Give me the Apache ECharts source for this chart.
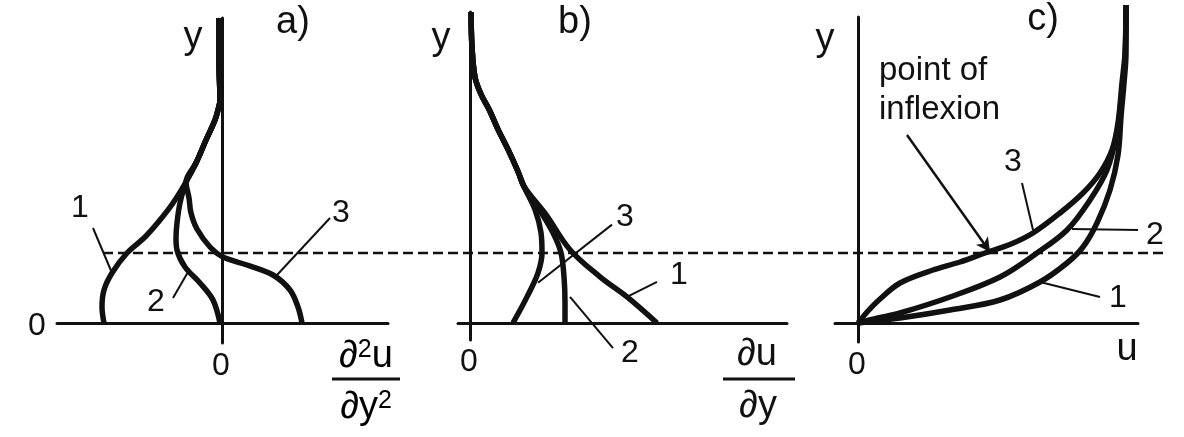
<!DOCTYPE html>
<html>
<head>
<meta charset="utf-8">
<script src="https://cdn.jsdelivr.net/npm/echarts@6/dist/echarts.min.js"></script>
<style>
  html, body { margin: 0; padding: 0; background: #fff; }
  #chart { width: 1184px; height: 437px; }
</style>
</head>
<body>
<div id="chart"></div>
<script>
// a) d2u/dy2 profiles  [x, y]
const a1 = [[-0.3,30.5],[-0.3,26],[-0.2,22.3],[-0.4,21.3],[-0.7,20.3],[-1.6,18.3],[-2.6,16.0],[-3.6,14.1],[-4.9,12.0],[-6.2,10.3],[-7.7,8.6],[-9.5,7.0],[-11.0,5.0],[-11.8,3.3],[-12.0,1.6],[-11.8,0]]
const a2 = [[-0.3,30.5],[-0.3,26],[-0.2,22.3],[-0.4,21.3],[-0.7,20.3],[-1.6,18.3],[-2.6,16.0],[-3.6,14.1],[-4.2,12.0],[-4.5,10.0],[-4.6,8.5],[-4.5,7.3],[-3.7,5.6],[-2.2,4.0],[-0.9,2.3],[-0.2,0]]
const a3 = [[-0.3,30.5],[-0.3,26],[-0.2,22.3],[-0.4,21.3],[-0.7,20.3],[-1.6,18.3],[-2.6,16.0],[-3.6,14.1],[-3.3,12.5],[-3.1,11.0],[-2.5,9.4],[-1.2,7.6],[0.1,6.6],[2.5,5.8],[5.1,4.8],[6.8,3.3],[7.6,1.6],[8.0,0]]

// b) du/dy profiles
const b1 = [[0.1,31],[0.2,27.5],[0.5,24.5],[1.1,22.8],[1.9,21.3],[2.8,19.3],[3.8,17.3],[4.8,15.1],[5.4,13.6],[7.6,10.8],[10.0,7.3],[13.0,4.6],[15.7,2.6],[18.7,0]]
const b2 = [[0.1,31],[0.2,27.5],[0.5,24.5],[1.1,22.8],[1.9,21.3],[2.8,19.3],[3.8,17.3],[4.8,15.1],[5.4,13.6],[7.0,11.2],[8.3,9.0],[9.1,7.0],[9.4,4.6],[9.5,2.0],[9.5,0]]
const b3 = [[0.1,31],[0.2,27.5],[0.5,24.5],[1.1,22.8],[1.9,21.3],[2.8,19.3],[3.8,17.3],[4.8,15.1],[5.4,13.6],[6.5,11.3],[7.1,9.0],[7.2,7.0],[6.8,5.0],[5.7,2.6],[4.3,0]]

// c) velocity profiles u(y)
const c1 = [[0,0],[4.2,0.5],[9.2,1.3],[14.2,2.3],[18.2,4.1],[20.9,6.0],[22.5,7.6],[23.9,10.0],[25.2,13.3],[26.0,16.8],[26.3,20.6],[26.6,24.0],[26.8,27],[26.8,31.8]]
const c2 = [[0,0],[2.0,0.5],[4.2,1.0],[9.2,2.6],[14.2,4.6],[17.9,7.0],[20.9,9.3],[23.2,12.3],[24.9,15.3],[25.9,19.0],[26.3,22.3],[26.7,26.3],[26.8,31.8]]
const c3 = [[0,0],[1.0,1.2],[2.2,2.4],[4.2,4.0],[7.5,5.3],[10.2,6.1],[12.7,7.0],[15.3,7.9],[17.5,9.0],[20.2,11.0],[22.5,13.0],[24.2,15.0],[25.4,17.3],[26.0,20.0],[26.4,24.0],[26.7,27.0],[26.8,31.8]]

// dashed level, in panel a units (runs on across all three panels)
const dashed = [[-11.9,7],[94.1,7]]

// leader lines for curve numbers
const leadA = [[[-12.9,9.5],[-11.0,5.0]],[[-4.9,2.5],[-3.4,5.1]],[[10.8,10.5],[5.5,4.8]]]
const leadB = [[[14.2,9.8],[6.8,4.0]],[[18.7,4.1],[15.7,2.6]],[[10.0,2.6],[14.3,-2.5]]]
const leadC = [[[16.4,14.0],[17.5,9.3]],[[21.4,9.4],[28.0,9.3]],[[18.2,4.1],[24.2,2.6]]]
const arrowC = [[4.9,18.8],[13.2,7.1]]

const FONT = '"Liberation Sans", Arial, Helvetica, sans-serif'
const INK = '#111'

const chart = echarts.init(document.getElementById('chart'))

const ax = (g, min, max) => ({
  type: 'value', gridIndex: g, min, max,
  axisLine: { show: true, onZero: true, lineStyle: { color: INK, width: 3 } },
  axisTick: { show: false }, axisLabel: { show: false }, splitLine: { show: false }
})

const curve = (data, g) => ({
  type: 'line', xAxisIndex: g, yAxisIndex: g, data,
  showSymbol: false, smooth: 0.35, clip: false, silent: true, z: 3,
  lineStyle: { color: INK, width: 5.5 }
})

const thin = (data, g) => ({
  type: 'line', xAxisIndex: g, yAxisIndex: g, data,
  showSymbol: false, clip: false, silent: true, z: 2,
  lineStyle: { color: INK, width: 2 }
})

const series = [
  curve(a1, 0), curve(a2, 0), curve(a3, 0),
  curve(b1, 1), curve(b2, 1), curve(b3, 1),
  curve(c1, 2), curve(c2, 2), curve(c3, 2)
]
leadA.forEach(l => series.push(thin(l, 0)))
leadB.forEach(l => series.push(thin(l, 1)))
leadC.forEach(l => series.push(thin(l, 2)))

// arrow to the inflexion point
series.push({
  type: 'line', xAxisIndex: 2, yAxisIndex: 2, data: [], silent: true,
  markLine: {
    silent: true, symbol: ['none', 'arrow'], symbolSize: [11, 14],
    label: { show: false },
    lineStyle: { color: INK, width: 2.5, type: 'solid' },
    emphasis: { disabled: true },
    data: [[{ coord: arrowC[0] }, { coord: arrowC[1] }]]
  }
})

// [text, x, y, size, align]
const texts = [
  ['y', 193, 38, 38], ['a)', 293, 23, 38], ['0', 37, 326, 32], ['0', 221, 366, 32],
  ['1', 80, 208, 32], ['2', 156, 302, 32], ['3', 341, 213, 32],
  ['y', 441, 39, 38], ['b)', 575, 23, 38], ['0', 469, 362, 32],
  ['3', 625, 217, 32], ['1', 679, 275, 32], ['2', 630, 353, 32],
  ['y', 825, 40, 38], ['c)', 1043, 20, 38], ['0', 857, 365, 32], ['u', 1127, 350, 38],
  ['3', 1013, 162, 32], ['2', 1155, 235, 32], ['1', 1118, 298, 32],
  ['point of', 879, 71, 33, 'left'], ['inflexion', 879, 110, 33, 'left'],
  ['\u2202u', 757, 355, 38], ['\u2202y', 758, 407, 38]
]

const graphic = texts.map(([t, x, y, s, al]) => ({
  type: 'text', x, y, silent: true,
  style: { text: t, fontSize: s, fontFamily: FONT, fill: INK, align: al || 'center', verticalAlign: 'middle' }
}))

// fraction with superscripts for panel a
const rich = {
  n: { fontSize: 38, fontFamily: FONT, color: INK, lineHeight: 38, verticalAlign: 'bottom' },
  s: { fontSize: 25, fontFamily: FONT, color: INK, lineHeight: 38, verticalAlign: 'top' }
}
graphic.push(
  { type: 'text', x: 366, y: 357, silent: true,
    style: { text: '{n|\u2202}{s|2}{n|u}', rich, align: 'center', verticalAlign: 'middle' } },
  { type: 'text', x: 366, y: 408, silent: true,
    style: { text: '{n|\u2202y}{s|2}', rich, align: 'center', verticalAlign: 'middle' } }
)

// fraction bars
graphic.push(
  { type: 'line', silent: true, shape: { x1: 332, y1: 379, x2: 400, y2: 379 }, style: { stroke: INK, lineWidth: 3 } },
  { type: 'line', silent: true, shape: { x1: 723, y1: 379, x2: 795, y2: 379 }, style: { stroke: INK, lineWidth: 3 } }
)

const option = {
  backgroundColor: '#fff',
  animation: false,
  grid: [
    { left: 57, top: 18, width: 331, height: 325, outerBoundsMode: 'none' },
    { left: 458, top: 12, width: 329, height: 328, outerBoundsMode: 'none' },
    { left: 835, top: 17, width: 303, height: 325, outerBoundsMode: 'none' }
  ],
  xAxis: [ax(0, -16.5, 16.6), ax(1, -1.2, 31.7), ax(2, -2.3, 28.0)],
  yAxis: [ax(0, -2.0, 30.5), ax(1, -1.7, 31.0), ax(2, -1.9, 30.6)],
  series,
  graphic
}
chart.setOption(option)

// dashed level line placed through panel a's scale
const p0 = chart.convertToPixel({ gridIndex: 0 }, dashed[0])
const p1 = chart.convertToPixel({ gridIndex: 0 }, dashed[1])
graphic.push({
  type: 'line', silent: true, z: 1,
  shape: { x1: p0[0], y1: p0[1], x2: p1[0], y2: p1[1] },
  style: { stroke: INK, lineWidth: 2.5, lineDash: [10, 5] }
})
chart.setOption({ graphic })
</script>
</body>
</html>
